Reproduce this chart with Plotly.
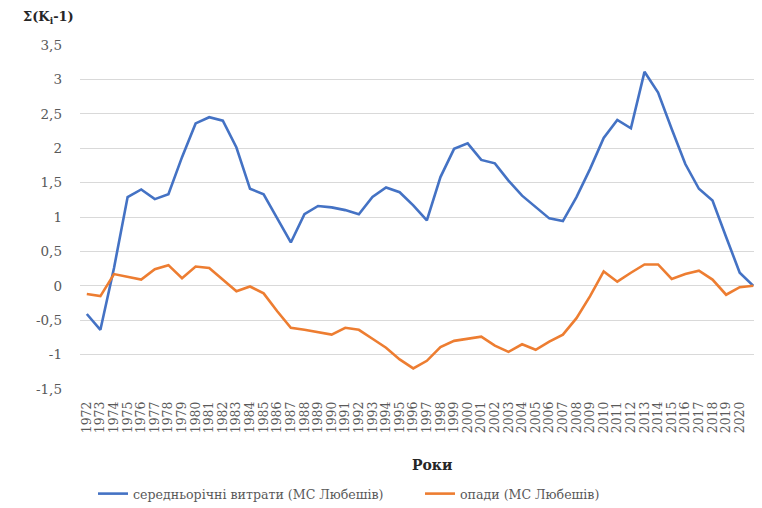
import plotly.graph_objects as go

years = list(range(1972, 2022))
discharge = [-0.41, -0.64, 0.26, 1.29, 1.40, 1.26, 1.33, 1.87, 2.36, 2.45,
             2.40, 2.01, 1.41, 1.33, 0.98, 0.63, 1.04, 1.16, 1.14, 1.10,
             1.04, 1.29, 1.43, 1.36, 1.17, 0.95, 1.58, 1.99, 2.07, 1.83,
             1.78, 1.53, 1.31, 1.15, 0.98, 0.94, 1.29, 1.70, 2.15, 2.41,
             2.29, 3.11, 2.81, 2.28, 1.77, 1.41, 1.24, 0.71, 0.19, 0.0]
precip = [-0.12, -0.15, 0.17, 0.13, 0.09, 0.24, 0.30, 0.11, 0.28, 0.26,
          0.09, -0.08, -0.01, -0.11, -0.37, -0.61, -0.64, -0.67, -0.71, -0.61,
          -0.64, -0.77, -0.90, -1.07, -1.20, -1.09, -0.89, -0.80, -0.77, -0.74,
          -0.87, -0.96, -0.85, -0.93, -0.81, -0.71, -0.47, -0.15, 0.21, 0.06,
          0.19, 0.31, 0.31, 0.10, 0.17, 0.22, 0.09, -0.13, -0.02, 0.0]
y_tickvals = [-1.5, -1, -0.5, 0, 0.5, 1, 1.5, 2, 2.5, 3, 3.5]
y_ticktext = ["-1,5", "-1", "-0,5", "0", "0,5", "1", "1,5", "2", "2,5", "3", "3,5"]
name_discharge = "середньорічні витрати (МС Любешів)"
name_precip = "опади (МС Любешів)"

serif = "DejaVu Serif"
grey = "#595959"

fig = go.Figure()
fig.add_trace(go.Scatter(x=years, y=discharge, mode="lines", name=name_discharge,
                         line=dict(color="#4472C4", width=2.6)))
fig.add_trace(go.Scatter(x=years, y=precip, mode="lines", name=name_precip,
                         line=dict(color="#ED7D31", width=2.6)))

fig.update_layout(
    width=746, height=500,
    margin=dict(l=72, r=0, t=37, b=119, autoexpand=False),
    paper_bgcolor="white", plot_bgcolor="white",
    font=dict(family=serif, color=grey),
    showlegend=True,
    legend=dict(orientation="h", x=0.0193, xanchor="left", y=-0.305, yanchor="middle",
                font=dict(family=serif, size=12.6, color=grey),
                entrywidth=282, entrywidthmode="pixels", itemwidth=30),
)
fig.update_xaxes(
    range=[1971.5, 2021.05], tickmode="linear", tick0=1972, dtick=1,
    tickangle=-90, tickfont=dict(family=serif, size=12.5, color=grey),
    showgrid=False, zeroline=False, showline=False, ticks="",
    ticklabelstandoff=9, automargin=False,
)
fig.update_yaxes(
    range=[-1.5, 3.5], tickmode="array", tickvals=y_tickvals, ticktext=y_ticktext,
    tickfont=dict(family=serif, size=13.5, color=grey),
    showgrid=True, gridcolor="#D9D9D9", gridwidth=1, zeroline=False,
    showline=False, ticks="", ticklabelstandoff=17, automargin=False,
)
fig.add_annotation(text="<b>Σ(K<sub>і</sub>-1)</b>", xref="paper", yref="paper",
                   x=-0.0875, y=1.081, xanchor="left", yanchor="middle", showarrow=False,
                   font=dict(family=serif, size=13, color="#262626"))
fig.add_annotation(text="<b>Роки</b>", xref="paper", yref="paper",
                   x=0.522, y=-0.22, xanchor="center", yanchor="middle", showarrow=False,
                   font=dict(family=serif, size=14, color="#262626"))

fig.write_html("out.html")
